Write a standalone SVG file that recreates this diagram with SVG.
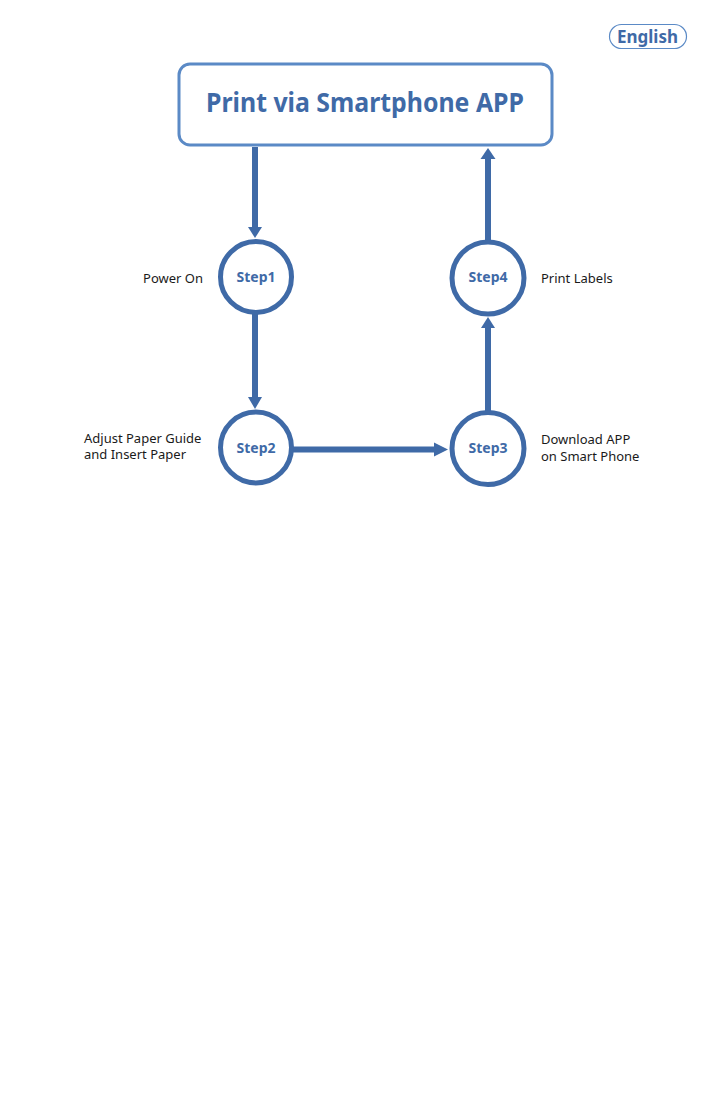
<svg xmlns="http://www.w3.org/2000/svg" width="725" height="1103" viewBox="0 0 725 1103">
<style>
.step{fill:#fff;stroke:#3f6aa7;stroke-width:5}
.stxt{font-family:"Noto Sans","Liberation Sans",sans-serif;font-weight:bold;font-size:14px;fill:#3f6aa7;text-anchor:middle}
.lbl{font-family:"Noto Sans","Liberation Sans",sans-serif;font-size:13px;fill:#1a1a1a}
.conn{stroke:#3f6aa7;stroke-width:6;fill:none}
.head{fill:#3f6aa7}
</style>
<rect width="725" height="1103" fill="#fff"/>
<g id="english">
<rect x="609.5" y="24.5" width="77" height="24" rx="12" fill="#fff" stroke="#5b8ac6" stroke-width="1.2"/>
<text x="647.5" y="43" font-family="'Noto Sans','Liberation Sans',sans-serif" font-weight="bold" font-size="17" fill="#3f6aa7" text-anchor="middle">English</text>
</g>
<g id="title">
<rect x="179" y="64" width="373" height="81" rx="11" fill="#fff" stroke="#5b8ac6" stroke-width="3"/>
<text x="365" y="112" font-family="'Noto Sans','Liberation Sans',sans-serif" font-weight="bold" font-size="26" fill="#3f6aa7" text-anchor="middle" textLength="318" lengthAdjust="spacingAndGlyphs">Print via Smartphone APP</text>
</g>
<g id="connectors">
<line class="conn" x1="255" y1="147" x2="255" y2="228"/>
<polygon class="head" points="248,227 262,227 255,238"/>
<line class="conn" x1="255" y1="313" x2="255" y2="399"/>
<polygon class="head" points="248,397 262,397 255,409"/>
<line class="conn" x1="292" y1="449.5" x2="436" y2="449.5"/>
<polygon class="head" points="434,442.5 434,456.5 448,449.5"/>
<line class="conn" x1="488" y1="411" x2="488" y2="327"/>
<polygon class="head" points="481,328 495,328 488,317"/>
<line class="conn" x1="488" y1="240" x2="488" y2="157"/>
<polygon class="head" points="480.5,159 495.5,159 488,148"/>
</g>
<g id="step1">
<circle class="step" cx="256" cy="277" r="35.5"/>
<text class="stxt" x="256" y="282">Step1</text>
<text class="lbl" x="203" y="283" text-anchor="end">Power On</text>
</g>
<g id="step2">
<circle class="step" cx="256" cy="447.5" r="35.5"/>
<text class="stxt" x="256" y="453">Step2</text>
<text class="lbl" x="84" y="443">Adjust Paper Guide</text>
<text class="lbl" x="84" y="459">and Insert Paper</text>
</g>
<g id="step3">
<circle class="step" cx="488" cy="448.5" r="36"/>
<text class="stxt" x="488" y="453">Step3</text>
<text class="lbl" x="541" y="444">Download APP</text>
<text class="lbl" x="541" y="461">on Smart Phone</text>
</g>
<g id="step4">
<circle class="step" cx="488" cy="278" r="36"/>
<text class="stxt" x="488" y="282">Step4</text>
<text class="lbl" x="541" y="283">Print Labels</text>
</g>
</svg>
